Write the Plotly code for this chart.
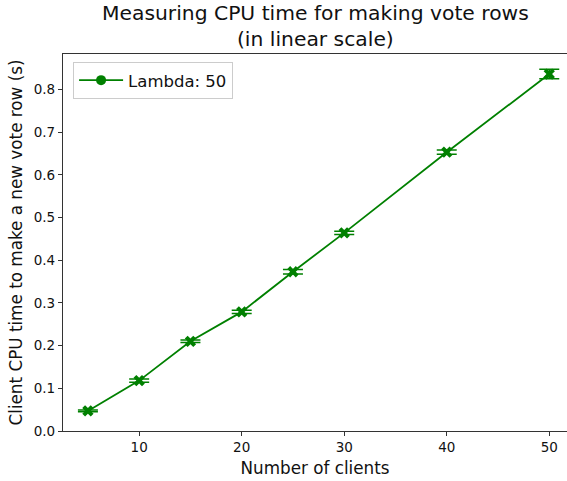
import plotly.graph_objects as go

# Number of clients vs. client CPU time (seconds) to make a new vote row
clients = [5, 10, 15, 20, 25, 30, 40, 50]
cpu_time = [0.047, 0.118, 0.210, 0.279, 0.373, 0.464, 0.653, 0.836]
cpu_err = [0.002, 0.004, 0.003, 0.004, 0.005, 0.004, 0.005, 0.011]

x_ticks = [10, 20, 30, 40, 50]
y_ticks = [0.0, 0.1, 0.2, 0.3, 0.4, 0.5, 0.6, 0.7, 0.8]

GREEN = "#008000"
FONT = "DejaVu Sans"
TXT = "#111111"

fig = go.Figure()

fig.add_trace(go.Scatter(
    x=clients, y=cpu_time,
    mode="lines+markers",
    line=dict(color=GREEN, width=1.8),
    marker=dict(symbol="x", size=10, color=GREEN, line=dict(width=0)),
    error_y=dict(type="data", array=cpu_err, visible=True,
                 color=GREEN, thickness=1.5, width=10),
    showlegend=False,
))

# legend entry drawn with a round marker
fig.add_trace(go.Scatter(
    x=[None], y=[None],
    mode="lines+markers",
    name="Lambda: 50",
    line=dict(color=GREEN, width=1.8),
    marker=dict(symbol="circle", size=10, color=GREEN),
))

axis_common = dict(
    showline=True, linecolor="#333333", linewidth=1.2,
    ticks="outside", ticklen=4, tickwidth=1, tickcolor="#333333",
    showgrid=False, zeroline=False,
    tickfont=dict(family=FONT, size=13.5, color=TXT),
)

fig.update_layout(
    width=567, height=481,
    margin=dict(l=63, r=0, t=54, b=50),
    plot_bgcolor="white", paper_bgcolor="white",
    font=dict(family=FONT, color=TXT),
    xaxis=dict(
        **axis_common,
        range=[2.57, 51.73],
        tickvals=x_ticks,
        mirror=True,
        title=dict(text="Number of clients",
                   font=dict(family=FONT, size=16.8, color=TXT),
                   standoff=7),
    ),
    yaxis=dict(
        **axis_common,
        range=[0, 0.883],
        tickvals=y_ticks,
        tickformat=".1f",
        title=dict(text="Client CPU time to make a new vote row (s)",
                   font=dict(family=FONT, size=16.8, color=TXT),
                   standoff=6),
    ),
    legend=dict(
        x=0.02, y=0.979, xanchor="left", yanchor="top",
        bgcolor="white", bordercolor="#cccccc", borderwidth=1,
        itemwidth=44,
        font=dict(family=FONT, size=16.5, color=TXT),
    ),
    annotations=[dict(
        text="Measuring CPU time for making vote rows<br>(in linear scale)",
        font=dict(family=FONT, size=20.3, color=TXT),
        xref="paper", yref="paper",
        x=0.5, xanchor="center",
        y=1 + (54 + 1) / 377, yanchor="top",
        showarrow=False,
    )],
)

fig.write_html("out.html")
